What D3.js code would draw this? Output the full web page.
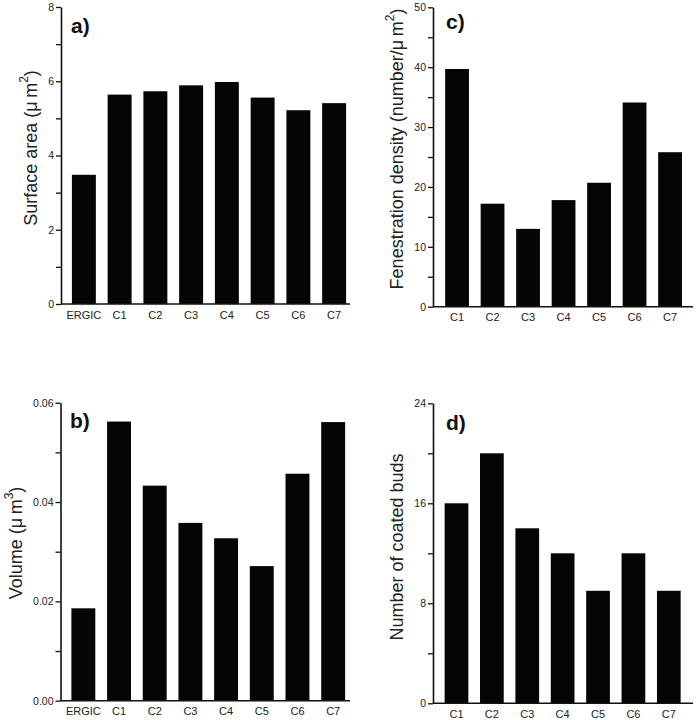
<!DOCTYPE html>
<html>
<head>
<meta charset="utf-8">
<script src="https://cdn.jsdelivr.net/npm/d3@7"></script>
<style>
  html, body { margin: 0; padding: 0; background: #fff; }
  svg { display: block; }
  text { font-family: "Liberation Sans", Arial, Helvetica, sans-serif; }
</style>
</head>
<body>
<svg id="chart" width="698" height="720"></svg>
<script>
// ---------- DATA ----------
const catsAB = ["ERGIC", "C1", "C2", "C3", "C4", "C5", "C6", "C7"];
const catsCD = ["C1", "C2", "C3", "C4", "C5", "C6", "C7"];

const surfaceArea = [3.48, 5.64, 5.73, 5.89, 5.98, 5.56, 5.22, 5.41];
const volume = [0.0186, 0.0562, 0.0433, 0.0358, 0.0327, 0.0271, 0.0457, 0.0561];
const fenestration = [39.7, 17.2, 13.0, 17.8, 20.7, 34.1, 25.8];
const coatedBuds = [16, 20, 14, 12, 9, 12, 9];

const ticksA = [0, 1, 2, 3, 4, 5, 6, 7, 8];
const labelsA = [0, 2, 4, 6, 8];
const ticksB = [0, 0.01, 0.02, 0.03, 0.04, 0.05, 0.06];
const labelsB = [0, 0.02, 0.04, 0.06];
const ticksC = [0, 5, 10, 15, 20, 25, 30, 35, 40, 45, 50];
const labelsC = [0, 10, 20, 30, 40, 50];
const ticksD = [0, 4, 8, 12, 16, 20, 24];
const labelsD = [0, 8, 16, 24];

// ---------- LAYOUT ----------
const svg = d3.select("#chart");
const MU = "μ\u2009m";

const panels = [
  { id: "a)", cats: catsAB, vals: surfaceArea, max: 8, ticks: ticksA, labels: labelsA, fmt: d3.format("d"),
    axisX: 61, y0: 304, yTop: 7, bandL: 66, bandR: 352, axisEnd: 350,
    title: ["Surface area (", MU, "2", ")"], titleX: 32, titleY: 148, lblX: 71, lblY: 33 },
  { id: "b)", cats: catsAB, vals: volume, max: 0.06, ticks: ticksB, labels: labelsB, fmt: d3.format(".2f"),
    axisX: 60.5, y0: 700.7, yTop: 402.7, bandL: 65.5, bandR: 351, axisEnd: 350,
    title: ["Volume (", MU, "3", ")"], titleX: 17, titleY: 543, lblX: 70, lblY: 428 },
  { id: "c)", cats: catsCD, vals: fenestration, max: 50, ticks: ticksC, labels: labelsC, fmt: d3.format("d"),
    axisX: 433, y0: 306.7, yTop: 7.3, bandL: 439.3, bandR: 687.8, axisEnd: 693,
    title: ["Fenestration density (number/", MU, "2", ")"], titleX: 398, titleY: 149, lblX: 446, lblY: 29 },
  { id: "d)", cats: catsCD, vals: coatedBuds, max: 24, ticks: ticksD, labels: labelsD, fmt: d3.format("d"),
    axisX: 433, y0: 703.3, yTop: 403.3, bandL: 438.8, bandR: 686.5, axisEnd: 693,
    title: ["Number of coated buds"], titleX: 398, titleY: 547, lblX: 446, lblY: 430 }
];

panels.forEach(p => {
  const g = svg.append("g");
  const x = d3.scaleBand().domain(p.cats).range([p.bandL, p.bandR])
    .paddingInner(0.33).paddingOuter(0.165);
  const y = d3.scaleLinear().domain([0, p.max]).range([p.y0, p.yTop]);

  // bars
  g.selectAll("rect.bar").data(p.cats.map((c, i) => ({ c, v: p.vals[i] })))
    .enter().append("rect")
    .attr("class", "bar")
    .attr("x", d => x(d.c))
    .attr("width", x.bandwidth())
    .attr("y", d => y(d.v))
    .attr("height", d => y(0) - y(d.v))
    .attr("fill", "#050505");

  // y axis
  const yAxis = d3.axisLeft(y)
    .tickValues(p.ticks)
    .tickFormat(v => p.labels.some(l => Math.abs(l - v) < 1e-9) ? p.fmt(v) : "")
    .tickSize(5).tickSizeOuter(0).tickPadding(2);
  const ya = g.append("g").attr("transform", `translate(${p.axisX},0)`).call(yAxis);
  ya.select(".domain").attr("stroke", "#111").attr("stroke-width", 1.6);
  ya.selectAll(".tick line").attr("stroke", "#111").attr("stroke-width", 1.3);
  ya.selectAll(".tick text").attr("font-size", 10.5).attr("fill", "#222")
    .attr("font-family", "'Liberation Sans', Arial, sans-serif");

  // x axis
  const xAxis = d3.axisBottom(x).tickSize(0).tickPadding(7);
  const xa = g.append("g").attr("transform", `translate(0,${p.y0})`).call(xAxis);
  xa.select(".domain").remove();
  xa.selectAll(".tick text").attr("font-size", 11).attr("fill", "#222")
    .attr("font-family", "'Liberation Sans', Arial, sans-serif");
  g.append("line")
    .attr("x1", p.axisX).attr("x2", p.axisEnd)
    .attr("y1", y(0)).attr("y2", y(0))
    .attr("stroke", "#111").attr("stroke-width", 1.6);

  // y-axis title
  const t = g.append("text")
    .attr("transform", `translate(${p.titleX},${p.titleY}) rotate(-90)`)
    .attr("text-anchor", "middle")
    .attr("dominant-baseline", "middle")
    .attr("font-size", 18)
    .attr("fill", "#222");
  if (p.title.length === 1) {
    t.text(p.title[0]);
  } else {
    t.append("tspan").text(p.title[0]);
    t.append("tspan").text(p.title[1]);
    t.append("tspan").attr("font-size", 12).attr("dy", -7).text(p.title[2]);
    t.append("tspan").attr("dy", 7).text(p.title[3]);
  }

  // panel label
  g.append("text")
    .attr("x", p.lblX).attr("y", p.lblY)
    .attr("font-size", 21).attr("font-weight", "bold")
    .attr("fill", "#111")
    .text(p.id);
});
</script>
</body>
</html>
